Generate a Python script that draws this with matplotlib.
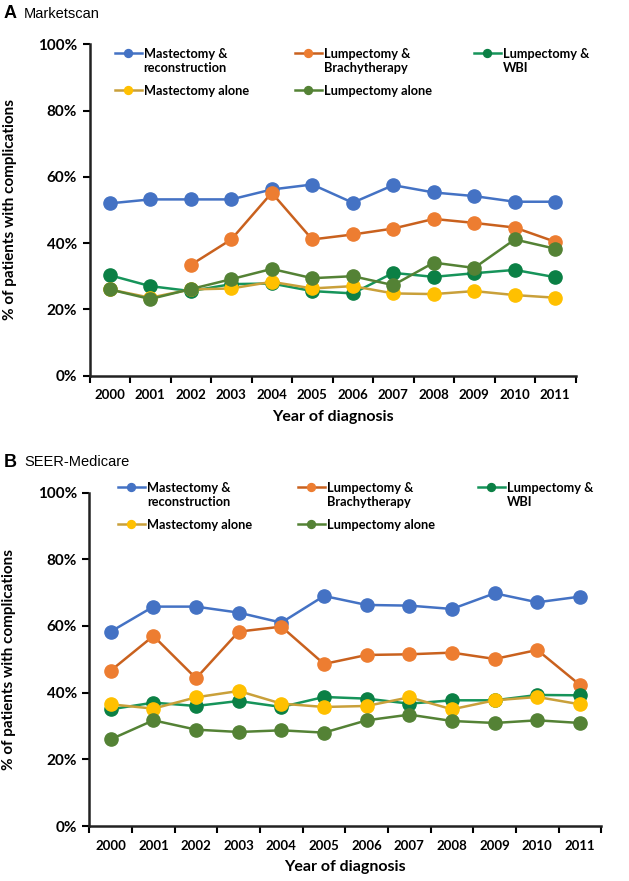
import matplotlib
matplotlib.use("Agg")
import matplotlib.pyplot as plt
from matplotlib.legend import Legend
import numpy as np

years = ["2000", "2001", "2002", "2003", "2004", "2005",
         "2006", "2007", "2008", "2009", "2010", "2011"]
series_labels = ["Mastectomy &\nreconstruction", "Lumpectomy &\nBrachytherapy",
                 "Lumpectomy &\nWBI", "Mastectomy alone", "Lumpectomy alone"]

# Panel A: Marketscan (% of patients with complications)
a_mast_recon = [52.0, 53.2, 53.2, 53.2, 56.2, 57.7, 52.2, 57.5, 55.3, 54.2, 52.5, 52.5]
a_lump_brachy = [np.nan, np.nan, 33.4, 41.1, 55.2, 41.1, 42.6, 44.4, 47.3, 46.1, 44.7, 40.4]
a_lump_wbi = [30.3, 27.0, 25.5, 27.6, 27.8, 25.5, 24.8, 31.0, 29.8, 30.9, 31.9, 29.7]
a_mast_alone = [26.0, 23.5, 26.0, 26.3, 28.3, 26.3, 27.0, 24.8, 24.6, 25.5, 24.3, 23.5]
a_lump_alone = [26.0, 23.1, 26.1, 29.1, 32.2, 29.4, 30.0, 27.3, 34.1, 32.5, 41.1, 38.3]

# Panel B: SEER-Medicare
b_mast_recon = [58.3, 65.8, 65.8, 64.0, 61.0, 69.0, 66.3, 66.1, 65.1, 69.8, 67.1, 68.8]
b_lump_brachy = [46.6, 57.0, 44.3, 58.3, 59.8, 48.6, 51.3, 51.5, 52.0, 50.1, 52.8, 42.3]
b_lump_wbi = [35.0, 37.0, 36.0, 37.5, 35.7, 38.7, 38.2, 36.7, 37.7, 37.7, 39.3, 39.2]
b_mast_alone = [36.5, 35.2, 38.6, 40.5, 36.7, 35.7, 36.0, 38.6, 35.0, 37.7, 38.7, 36.5]
b_lump_alone = [26.0, 31.7, 28.9, 28.2, 28.7, 28.0, 31.7, 33.4, 31.5, 30.9, 31.7, 30.9]

yticks = [0, 20, 40, 60, 80, 100]

marker_colors = ["#4472C4", "#ED7D31", "#0B8045", "#FFC000", "#548235"]
line_colors = ["#4472C4", "#C9611E", "#16945A", "#C9A03A", "#548235"]

FONT = "Lato"
LEG_FS = 9.2

fig = plt.figure(figsize=(6.29, 8.81), dpi=100)
W, H = 629.0, 881.0


def column_legend(ax, handles, labels, x_px, top_px):
    leg = Legend(ax, handles, labels, loc="upper left",
                 bbox_to_anchor=(x_px / W, 1 - top_px / H),
                 bbox_transform=fig.transFigure,
                 frameon=False, borderpad=0, borderaxespad=0,
                 handlelength=2.1, handleheight=1.15, handletextpad=0.15,
                 labelspacing=0.85, markerscale=0.6,
                 prop={"family": FONT, "weight": "bold", "size": LEG_FS})
    for t in leg.get_texts():
        t.set_linespacing(1.2)
    for col in leg._legend_handle_box.get_children():
        for item in col.get_children():
            item.align = "top"
    ax.add_artist(leg)
    return leg


def make_panel(rect, data, letter, title, ylab_x, title_y, leg_x, leg_top):
    l, r, top, bot = rect
    ax = fig.add_axes([l / W, 1 - bot / H, (r - l) / W, (bot - top) / H])
    x = np.arange(len(years))
    handles = []
    for vals, mc, lc, lab in zip(data, marker_colors, line_colors, series_labels):
        h, = ax.plot(x, vals, color=lc, lw=1.8, marker="o", ms=9.5,
                     markerfacecolor=mc, markeredgecolor=mc, label=lab)
        handles.append(h)
    ax.set_xlim(-0.5, len(years) - 0.5)
    ax.set_ylim(0, 100)
    ax.set_yticks(yticks)
    ax.set_yticklabels([f"{v}%" for v in yticks])
    ax.set_xticks(x)
    ax.set_xticklabels(years)
    ax.set_xticks(np.arange(-0.5, len(years)), minor=True)
    ax.tick_params(axis="x", which="major", length=0, pad=10)
    ax.tick_params(axis="x", which="minor", length=5, width=1.5, direction="out")
    ax.tick_params(axis="y", length=5, width=1.5, direction="out", pad=4)
    for lbl in ax.get_xticklabels() + ax.get_yticklabels():
        lbl.set_fontfamily(FONT)
        lbl.set_fontweight("bold")
    for lbl in ax.get_xticklabels():
        lbl.set_fontsize(9.5)
    for lbl in ax.get_yticklabels():
        lbl.set_fontsize(11)
    for s in ["top", "right"]:
        ax.spines[s].set_visible(False)
    for s in ["left", "bottom"]:
        ax.spines[s].set_linewidth(1.8)
        ax.spines[s].set_color("#222222")
    ax.set_xlabel("Year of diagnosis", fontfamily=FONT, fontweight="bold",
                  fontsize=11.5, labelpad=6)
    ax.set_ylabel("% of patients with complications", fontfamily=FONT,
                  fontweight="bold", fontsize=11)
    ax.yaxis.set_label_coords(ylab_x, 0.5)
    # legend: three columns, row-major order as in the original
    cols = [[0, 3], [1, 4], [2]]
    for idxs, xp in zip(cols, leg_x):
        column_legend(ax, [handles[i] for i in idxs],
                      [series_labels[i] for i in idxs], xp, leg_top)
    fig.text(4 / W, 1 - title_y / H, letter, fontfamily="Liberation Sans",
             fontweight="bold", fontsize=13, va="center", ha="left")
    fig.text(24 / W, 1 - title_y / H, title, fontfamily="Liberation Sans",
             fontsize=10.5, va="center", ha="left")
    return ax


make_panel((89.5, 575.5, 44.5, 375.5),
           [a_mast_recon, a_lump_brachy, a_lump_wbi, a_mast_alone, a_lump_alone],
           "A", "Marketscan", -0.15, 14, (115, 295, 474), 48)
make_panel((89.4, 601.3, 492.6, 826.0),
           [b_mast_recon, b_lump_brachy, b_lump_wbi, b_mast_alone, b_lump_alone],
           "B", "SEER-Medicare", -0.143, 462, (118, 298, 478), 482)

fig.savefig("out.png", dpi=100)
